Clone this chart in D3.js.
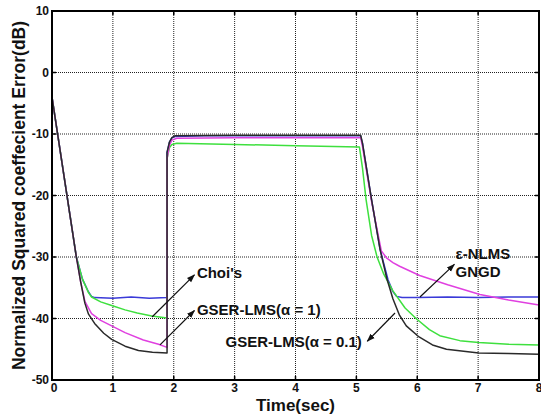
<!DOCTYPE html>
<html lang="en">
<head>
  <meta charset="UTF-8" />
  <title>Normalized squared coefficient error</title>
  <style>
    body { margin: 0; background: #fff; }
    svg { display: block; font-family: 'Liberation Sans', Arial, sans-serif; }
    .grid line { stroke: #222; stroke-width: 1; stroke-dasharray: 1,1; }
    .tick-label { font-size: 12px; font-weight: bold; fill: #111; }
    .axis-title { font-weight: bold; fill: #111; }
    .note { font-size: 15px; font-weight: bold; fill: #111; }
    .curve { fill: none; stroke-width: 1.5; stroke-linejoin: round; }
  </style>
</head>
<body>
<svg id="chart" width="541" height="415"></svg>
<script src="https://cdn.jsdelivr.net/npm/d3@7"></script>
<script>
  // tick values
  const xTicks = [0, 1, 2, 3, 4, 5, 6, 7, 8];
  const yTicks = [-50, -40, -30, -20, -10, 0, 10];

  // eps-NLMS / GNGD (blue)
  const tNlms = [0, 0.1, 0.2, 0.3, 0.4, 0.5, 0.6, 0.65, 0.7, 1.0, 1.3, 1.6, 1.89,
    1.89, 1.93, 1.97, 2.02, 2.5, 3, 4, 5.07, 5.1, 5.25, 5.39, 5.52, 5.6, 5.66, 5.75, 6, 6.5, 7, 7.5, 8];
  const nlms = [-4, -10.5, -17, -23.5, -30, -33.6, -35.7, -36.4, -36.6, -36.7, -36.5, -36.7, -36.6,
    -13, -11.3, -10.6, -10.4, -10.3, -10.3, -10.3, -10.3, -11.5, -20.7, -28.8, -33.7, -35.6, -36.4, -36.6, -36.6, -36.5, -36.6, -36.5, -36.5];

  // Choi's (green)
  const tChoi = [0, 0.1, 0.2, 0.3, 0.4, 0.5, 0.6, 0.65, 0.8, 0.98, 1.2, 1.4, 1.64, 1.89,
    1.89, 1.93, 1.97, 2.05, 3, 4, 5.05, 5.1, 5.16, 5.25, 5.34, 5.45, 5.6, 5.8, 5.98, 6.2, 6.37, 6.7, 7.01, 7.5, 8];
  const choi = [-4, -10.5, -17, -23.5, -30, -33.6, -35.8, -36.5, -37.3, -37.9, -38.6, -39.1, -39.6, -39.9,
    -14, -12.2, -11.7, -11.5, -11.7, -11.9, -12.1, -15.5, -20.7, -26.5, -30, -32.8, -35.5, -38.3, -40, -41.8, -42.8, -43.6, -43.9, -44.2, -44.3];

  // GSER-LMS(alpha = 1) (magenta)
  const tGser1 = [0, 0.1, 0.2, 0.3, 0.4, 0.47, 0.54, 0.65, 0.8, 0.98, 1.2, 1.5, 1.75, 1.89,
    1.89, 1.93, 1.97, 2.05, 3, 4, 5.07, 5.1, 5.25, 5.41, 5.5, 5.6, 5.71, 6.04, 6.5, 7.03, 7.5, 8];
  const gser1 = [-4, -10.5, -17, -23.5, -30, -34, -37.2, -39.2, -40.3, -41.2, -42.3, -43.5, -44.2, -44.7,
    -14, -11.8, -11, -10.7, -10.6, -10.6, -10.6, -12, -21, -29, -30.2, -30.9, -31.5, -33, -34.5, -36.1, -37, -37.8];

  // GSER-LMS(alpha = 0.1) (black)
  const tGser01 = [0, 0.1, 0.2, 0.3, 0.4, 0.47, 0.54, 0.6, 0.7, 0.85, 0.98, 1.2, 1.42, 1.65, 1.89,
    1.89, 1.93, 1.97, 2.02, 3, 4, 5.07, 5.1, 5.25, 5.39, 5.5, 5.6, 5.71, 5.82, 6.03, 6.25, 6.48, 7.01, 7.5, 8];
  const gser01 = [-4, -10.5, -17, -23.5, -30, -34, -37.5, -39.3, -40.8, -42.4, -43.4, -44.5, -45.2, -45.5, -45.6,
    -13, -11.3, -10.6, -10.3, -10.2, -10.2, -10.2, -11.5, -20.7, -28.8, -33.5, -36.8, -39.5, -41.2, -43, -44.3, -45, -45.6, -45.7, -45.8];

  const series = [
    { t: tNlms, v: nlms, color: "#3a3ad8" },
    { t: tChoi, v: choi, color: "#3ee03e" },
    { t: tGser1, v: gser1, color: "#e040e0" },
    { t: tGser01, v: gser01, color: "#2a2a2a" }
  ];

  // annotations: label, text position (t, dB), arrow from curve point to label
  const notes = [
    { label: "Choi's", x: 2.38, y: -32.6, anchor: "start", from: [1.643, -39.75], to: [2.34, -32.9] },
    { label: "GSER-LMS(\u03b1 = 1)", x: 2.38, y: -38.5, anchor: "start", from: [1.774, -44.3], to: [2.34, -38.7] },
    { label: "GSER-LMS(\u03b1 = 0.1)", x: 5.09, y: -43.8, anchor: "end", from: [5.635, -39.1], to: [5.18, -43.7] },
    { label: "\u03b5-NLMS", x: 6.63, y: -29.5, anchor: "start", from: [6.045, -36.5], to: [6.61, -31.2] },
    { label: "GNGD", x: 6.63, y: -32.4, anchor: "start", from: null, to: null }
  ];

  const margin = { top: 11, right: 2, bottom: 35, left: 52 };
  const W = 541, H = 415;
  const innerW = W - margin.left - margin.right;
  const innerH = H - margin.top - margin.bottom;

  const svg = d3.select("#chart");
  const g = svg.append("g").attr("transform", `translate(${margin.left},${margin.top})`);

  const x = d3.scaleLinear().domain([0, 8]).range([0, innerW]);
  const y = d3.scaleLinear().domain([-50, 10]).range([innerH, 0]);

  // grid
  const grid = g.append("g").attr("class", "grid");
  grid.selectAll(".gx").data(xTicks.slice(1, -1)).join("line")
    .attr("x1", d => x(d)).attr("x2", d => x(d)).attr("y1", 0).attr("y2", innerH);
  grid.selectAll(".gy").data(yTicks.slice(1, -1)).join("line")
    .attr("y1", d => y(d)).attr("y2", d => y(d)).attr("x1", 0).attr("x2", innerW);

  // curves
  const line = d3.line().x(d => x(d[0])).y(d => y(d[1]));
  series.forEach(s => {
    g.append("path")
      .attr("class", "curve")
      .attr("stroke", s.color)
      .attr("d", line(s.t.map((t, i) => [t, s.v[i]])));
  });

  // frame + inward ticks
  g.append("rect").attr("width", innerW).attr("height", innerH)
    .attr("fill", "none").attr("stroke", "#000").attr("stroke-width", 2);
  const tl = 4;
  xTicks.forEach(d => {
    g.append("line").attr("x1", x(d)).attr("x2", x(d)).attr("y1", innerH).attr("y2", innerH - tl).attr("stroke", "#000").attr("stroke-width", 1.5);
    g.append("line").attr("x1", x(d)).attr("x2", x(d)).attr("y1", 0).attr("y2", tl).attr("stroke", "#000").attr("stroke-width", 1.5);
  });
  yTicks.forEach(d => {
    g.append("line").attr("y1", y(d)).attr("y2", y(d)).attr("x1", 0).attr("x2", tl).attr("stroke", "#000").attr("stroke-width", 1.5);
    g.append("line").attr("y1", y(d)).attr("y2", y(d)).attr("x1", innerW).attr("x2", innerW - tl).attr("stroke", "#000").attr("stroke-width", 1.5);
  });

  // tick labels
  g.selectAll(".xl").data(xTicks).join("text")
    .attr("class", "tick-label")
    .attr("x", d => x(d) + (d === 0 ? 2 : 0))
    .attr("y", innerH + 12)
    .attr("text-anchor", "middle")
    .text(d => d);
  g.selectAll(".yl").data(yTicks).join("text")
    .attr("class", "tick-label")
    .attr("x", -3)
    .attr("y", d => y(d) + 4)
    .attr("text-anchor", "end")
    .text(d => d);

  // axis titles
  svg.append("text").attr("class", "axis-title")
    .attr("x", margin.left + x(4)).attr("y", 411)
    .attr("text-anchor", "middle").style("font-size", "17px")
    .text("Time(sec)");
  svg.append("text").attr("class", "axis-title")
    .attr("transform", `translate(25,${margin.top + innerH / 2}) rotate(-90)`)
    .attr("text-anchor", "middle").style("font-size", "17.5px")
    .text("Normalized Squared coeffecient Error(dB)");

  // annotations
  svg.append("defs").append("marker")
    .attr("id", "arrow").attr("viewBox", "0 0 10 10")
    .attr("refX", 9).attr("refY", 5)
    .attr("markerWidth", 7).attr("markerHeight", 7)
    .attr("orient", "auto")
    .append("path").attr("d", "M0,1.5 L10,5 L0,8.5 Z").attr("fill", "#111");

  notes.forEach(n => {
    if (n.from) {
      g.append("line")
        .attr("x1", x(n.from[0])).attr("y1", y(n.from[1]))
        .attr("x2", x(n.to[0])).attr("y2", y(n.to[1]))
        .attr("stroke", "#111").attr("stroke-width", 1.2)
        .attr("marker-end", "url(#arrow)");
    }
    g.append("text").attr("class", "note")
      .attr("x", x(n.x)).attr("y", y(n.y))
      .attr("dy", "0.35em")
      .attr("text-anchor", n.anchor)
      .text(n.label);
  });
</script>
</body>
</html>
